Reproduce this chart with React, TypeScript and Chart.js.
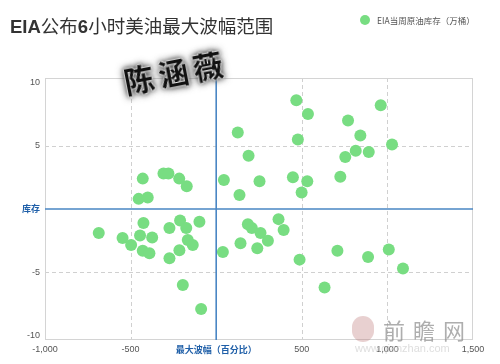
import React, { useEffect, useRef } from "react";
import { Chart, registerables } from "chart.js";

Chart.register(...registerables);

const title = "EIA公布6小时美油最大波幅范围";
const seriesName = "EIA当周原油库存（万桶）";
const xAxisTitle = "最大波幅（百分比）";
const yAxisTitle = "库存";
const xTicks = [-1000, -500, 0, 500, 1000, 1500];
const yTicks = [-10, -5, 0, 5, 10];
const xDashed = [-500, 500, 1000];
const yDashed = [-5, 5];

const xValues = [
  -453, -400, -429, -308, -279, -216, -172, 126, 189, 45, 253, 136, 468, 536, 770, 961, 842, 477, 1027, 815,
  891, 754, 448, 532, 499, 725,
  -686, -547, -497, -425, -445, -374, -429, -390, -273, -211, -175, -98, -166, -137, -215, -273, -195, -88,
  39, 142, 185, 208, 259, 302, 240, 364, 394, 487, 708, 887, 1008, 1091, 633,
];
const yValues = [
  0.8, 0.9, 2.4, 2.8, 2.8, 2.4, 1.8, 6.05, 4.2, 2.3, 2.2, 1.1, 8.6, 7.5, 7.0, 8.2, 5.8, 5.5, 5.1, 4.6,
  4.5, 4.1, 2.5, 2.2, 1.3, 2.55,
  -1.9, -2.3, -2.85, -1.1, -2.1, -2.25, -3.3, -3.5, -1.5, -0.9, -1.5, -1.0, -2.45, -2.85, -3.25, -3.9, -6.0, -7.9,
  -3.4, -2.7, -1.2, -1.5, -1.9, -2.5, -3.1, -0.8, -1.66, -4.0, -3.3, -3.8, -3.2, -4.7, -6.2,
];

const GREEN = "#78dd82";
const BLUE = "#4a86c4";
const LABEL_BLUE = "#1f5fa8";
const FONT = "'Liberation Sans', Arial, sans-serif";
const CJK = "'Noto Sans CJK SC', 'Noto Sans', sans-serif";

const gridPlugin = {
  id: "dashgrid",
  beforeDatasetsDraw(chart: any) {
    const { ctx, chartArea, scales } = chart;
    const { left, right, top, bottom } = chartArea;
    ctx.save();
    ctx.strokeStyle = "#d0d0d0";
    ctx.lineWidth = 1;
    ctx.setLineDash([4, 3]);
    ctx.beginPath();
    xDashed.forEach((v) => {
      const x = Math.round(scales.x.getPixelForValue(v)) + 0.5;
      ctx.moveTo(x, top);
      ctx.lineTo(x, bottom);
    });
    yDashed.forEach((v) => {
      const y = Math.round(scales.y.getPixelForValue(v)) + 0.5;
      ctx.moveTo(left, y);
      ctx.lineTo(right, y);
    });
    ctx.stroke();
    ctx.setLineDash([]);
    ctx.strokeStyle = "#d4d4d4";
    ctx.strokeRect(left + 0.5, top + 0.5, right - left - 1, bottom - top - 1);
    ctx.restore();
  },
  afterDatasetsDraw(chart: any) {
    const { ctx, chartArea, scales } = chart;
    const { left, right, top, bottom } = chartArea;
    ctx.save();
    ctx.strokeStyle = BLUE;
    ctx.lineWidth = 1.6;
    const x0 = scales.x.getPixelForValue(0);
    const y0 = scales.y.getPixelForValue(0);
    ctx.beginPath();
    ctx.moveTo(x0, top);
    ctx.lineTo(x0, bottom);
    ctx.moveTo(left, y0);
    ctx.lineTo(right, y0);
    ctx.stroke();
    ctx.restore();
  },
};

export default function App() {
  const ref = useRef<HTMLCanvasElement>(null);

  useEffect(() => {
    if (!ref.current) return;
    const data = xValues.map((x, i) => ({ x, y: yValues[i] }));
    const chart = new Chart(ref.current, {
      type: "scatter",
      data: {
        datasets: [
          {
            label: seriesName,
            data,
            backgroundColor: GREEN,
            borderColor: GREEN,
            pointRadius: 6,
            pointHoverRadius: 6,
            borderWidth: 0,
          },
        ],
      },
      options: {
        animation: false,
        responsive: false,
        maintainAspectRatio: false,
        layout: { padding: { left: 0, top: 78, right: 27, bottom: 0 } },
        plugins: { legend: { display: false }, title: { display: false }, tooltip: { enabled: false } },
        scales: {
          x: {
            type: "linear",
            min: -1000,
            max: 1500,
            afterBuildTicks: (s: any) => {
              s.ticks = xTicks.map((v) => ({ value: v }));
            },
            afterFit: (s: any) => {
              s.height = 24;
            },
            ticks: {
              autoSkip: false,
              maxRotation: 0,
              padding: 4,
              callback: (v: any) => (v === 0 ? xAxisTitle : Number(v).toLocaleString("en-US")),
              color: (c: any) => (c.tick && c.tick.value === 0 ? LABEL_BLUE : "#555"),
              font: (c: any) =>
                c.tick && c.tick.value === 0
                  ? { family: CJK, size: 9, weight: "bold" }
                  : { family: FONT, size: 9 },
            },
            grid: { display: false, drawTicks: false },
            border: { display: false },
          },
          y: {
            type: "linear",
            min: -10.35,
            max: 10.35,
            afterBuildTicks: (s: any) => {
              s.ticks = yTicks.map((v) => ({ value: v }));
            },
            afterFit: (s: any) => {
              s.width = 45;
            },
            ticks: {
              padding: 5,
              callback: (v: any) => (v === 0 ? yAxisTitle : String(v)),
              color: (c: any) => (c.tick && c.tick.value === 0 ? LABEL_BLUE : "#555"),
              font: (c: any) =>
                c.tick && c.tick.value === 0
                  ? { family: CJK, size: 9, weight: "bold" }
                  : { family: FONT, size: 9 },
            },
            grid: { display: false, drawTicks: false },
            border: { display: false },
          },
        },
      },
      plugins: [gridPlugin],
    });
    return () => chart.destroy();
  }, []);

  return (
    <div style={{ position: "fixed", left: 0, top: 0, width: 500, height: 364, background: "#fff", overflow: "hidden" }}>
      <canvas ref={ref} width={500} height={364} style={{ position: "absolute", left: 0, top: 0 }} />
      <div
        style={{
          position: "absolute",
          left: 10,
          top: 14,
          fontFamily: CJK,
          fontSize: 18.5,
          lineHeight: "22px",
          color: "#333",
          whiteSpace: "nowrap",
        }}
        title={title}
      >
        <b style={{ fontFamily: FONT }}>EIA</b>公布<b style={{ fontFamily: FONT }}>6</b>小时美油最大波幅范围
      </div>
      <div
        style={{
          position: "absolute",
          left: 360,
          top: 15,
          width: 10,
          height: 10,
          borderRadius: 5,
          background: GREEN,
        }}
      />
      <div
        style={{
          position: "absolute",
          left: 377,
          top: 14,
          fontFamily: CJK,
          fontSize: 8.5,
          lineHeight: "12px",
          color: "#555",
          whiteSpace: "nowrap",
        }}
      >
        {seriesName}
      </div>
      <div
        style={{
          position: "absolute",
          left: 124,
          top: 64,
          fontFamily: CJK,
          fontSize: 30,
          fontWeight: "bold",
          lineHeight: "34px",
          letterSpacing: 5,
          color: "#111",
          transform: "rotate(-11deg)",
          transformOrigin: "left center",
          textShadow: "0 0 2px #fff, 0 0 2px #fff, 0 0 2px #fff, 0 0 4px #333, 0 0 7px #444, 0 0 9px #777",
          whiteSpace: "nowrap",
        }}
      >
        陈涵薇
      </div>
      <div
        style={{
          position: "absolute",
          left: 352,
          top: 316,
          width: 22,
          height: 26,
          borderRadius: 12,
          background: "rgba(190,120,120,0.35)",
        }}
      />
      <div
        style={{
          position: "absolute",
          left: 383,
          top: 316,
          fontFamily: CJK,
          fontSize: 22,
          lineHeight: "26px",
          letterSpacing: 8,
          color: "rgba(140,140,140,0.7)",
          whiteSpace: "nowrap",
        }}
      >
        前瞻网
      </div>
      <div
        style={{
          position: "absolute",
          left: 355,
          top: 342,
          fontFamily: FONT,
          fontSize: 11,
          lineHeight: "12px",
          color: "rgba(200,200,200,0.6)",
          whiteSpace: "nowrap",
        }}
      >
        www.qianzhan.com
      </div>
    </div>
  );
}
